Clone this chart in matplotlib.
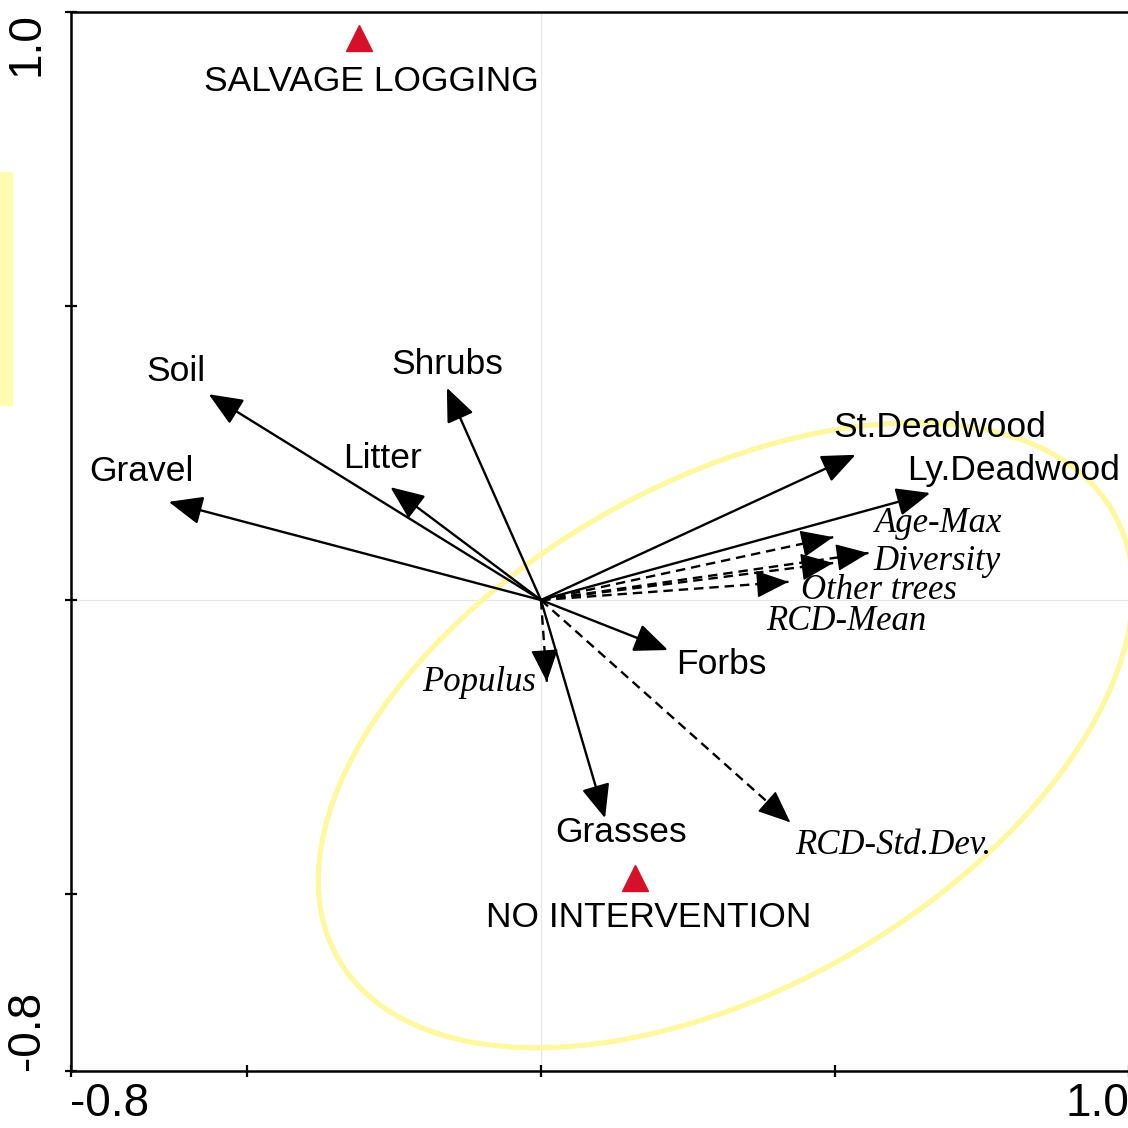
import numpy as np
import matplotlib
matplotlib.use("Agg")
import matplotlib.pyplot as plt
from matplotlib.patches import Ellipse, Rectangle

# environmental vectors (solid arrows)
env_names = ["Gravel", "Soil", "Litter", "Shrubs", "St.Deadwood", "Ly.Deadwood", "Forbs", "Grasses"]
env_x = [-0.633, -0.565, -0.256, -0.160, 0.535, 0.662, 0.216, 0.109]
env_y = [0.167, 0.350, 0.192, 0.361, 0.247, 0.182, -0.085, -0.371]
env_lab_x = [-0.679, -0.621, -0.270, -0.160, 0.679, 0.803, 0.306, 0.136]
env_lab_y = [0.218, 0.388, 0.240, 0.401, 0.293, 0.221, -0.109, -0.396]

# regeneration variables (dashed arrows)
reg_names = ["Age-Max", "Diversity", "Other trees", "RCD-Mean", "Populus", "RCD-Std.Dev."]
reg_x = [0.497, 0.557, 0.497, 0.421, 0.010, 0.424]
reg_y = [0.107, 0.080, 0.063, 0.031, -0.139, -0.378]
reg_lab_x = [0.676, 0.674, 0.574, 0.520, -0.105, 0.599]
reg_lab_y = [0.131, 0.066, 0.017, -0.036, -0.141, -0.418]

# treatment centroids
trt_names = ["SALVAGE LOGGING", "NO INTERVENTION"]
trt_x = [-0.309, 0.160]
trt_y = [0.956, -0.473]
trt_lab_x = [-0.289, 0.183]
trt_lab_y = [0.881, -0.539]

sans = "Liberation Sans"
serif = "Liberation Serif"
head = "-|>,head_length=0.95,head_width=0.4"

fig = plt.figure(figsize=(11.28, 11.28), dpi=100)
ax = fig.add_axes([70.5 / 1128, 57.5 / 1128, 1058.5 / 1128, 1058.5 / 1128])
ax.set_xlim(-0.8, 1.0)
ax.set_ylim(-0.8, 1.0)

# yellow mark on the left edge
fig.patches.append(Rectangle((0, (1128 - 405) / 1128), 12 / 1128, 233 / 1128,
                             transform=fig.transFigure, color="#fffbb0", zorder=0))

ax.axhline(0, color="#e6e6e6", lw=0.8, zorder=0)
ax.axvline(0, color="#e6e6e6", lw=0.8, zorder=0)

ax.add_patch(Ellipse((0.314, -0.230), 1.521, 0.857, angle=30, fill=False,
                     ec="#fff8a0", lw=3.8, zorder=1))

for i in range(len(env_names)):
    ax.annotate("", xy=(env_x[i], env_y[i]), xytext=(0, 0),
                arrowprops=dict(arrowstyle=head, mutation_scale=22, lw=1.7, color="black",
                                shrinkA=0, shrinkB=0), zorder=3)
    ax.text(env_lab_x[i], env_lab_y[i], env_names[i], fontsize=25.5, family=sans,
            ha="center", va="center", zorder=4)

for i in range(len(reg_names)):
    # dashed shaft, solid head
    ax.plot([0, reg_x[i]], [0, reg_y[i]], color="black", lw=1.7, ls=(0, (4, 2.5)), zorder=3)
    ang = np.arctan2(reg_y[i], reg_x[i])
    ax.annotate("", xy=(reg_x[i], reg_y[i]),
                xytext=(reg_x[i] - 0.03 * np.cos(ang), reg_y[i] - 0.03 * np.sin(ang)),
                arrowprops=dict(arrowstyle=head, mutation_scale=22, lw=1.0, color="black",
                                shrinkA=0, shrinkB=0), zorder=3)
    ax.text(reg_lab_x[i], reg_lab_y[i], reg_names[i], fontsize=25, family=serif,
            style="italic", ha="center", va="center", zorder=4)

ax.plot(trt_x, trt_y, ls="none", marker="^", ms=19, color="#d7102a", mec="#d7102a", zorder=5)
for i in range(len(trt_names)):
    ax.text(trt_lab_x[i], trt_lab_y[i], trt_names[i], fontsize=25.5, family=sans,
            ha="center", va="center", zorder=4)

ax.spines["right"].set_visible(False)
for s in ["left", "bottom", "top"]:
    ax.spines[s].set_linewidth(1.8)

ax.set_xticks([-0.8, -0.5, 0, 0.5, 1.0])
ax.set_xticklabels(["-0.8", "", "", "", "1.0"])
ax.set_yticks([-0.8, -0.5, 0, 0.5, 1.0])
ax.set_yticklabels(["-0.8", "", "", "", "1.0"])
ax.tick_params(direction="inout", length=9, width=1.6, labelsize=33, pad=4)
ax.tick_params(axis="y", labelrotation=90, pad=11)
for t in ax.get_xticklabels() + ax.get_yticklabels():
    t.set_family(sans)
xl = ax.get_xticklabels()
xl[0].set_ha("left")
xl[-1].set_ha("right")
yl = ax.get_yticklabels()
yl[0].set_va("bottom")
yl[-1].set_va("top")

fig.savefig("out.png", dpi=100)
